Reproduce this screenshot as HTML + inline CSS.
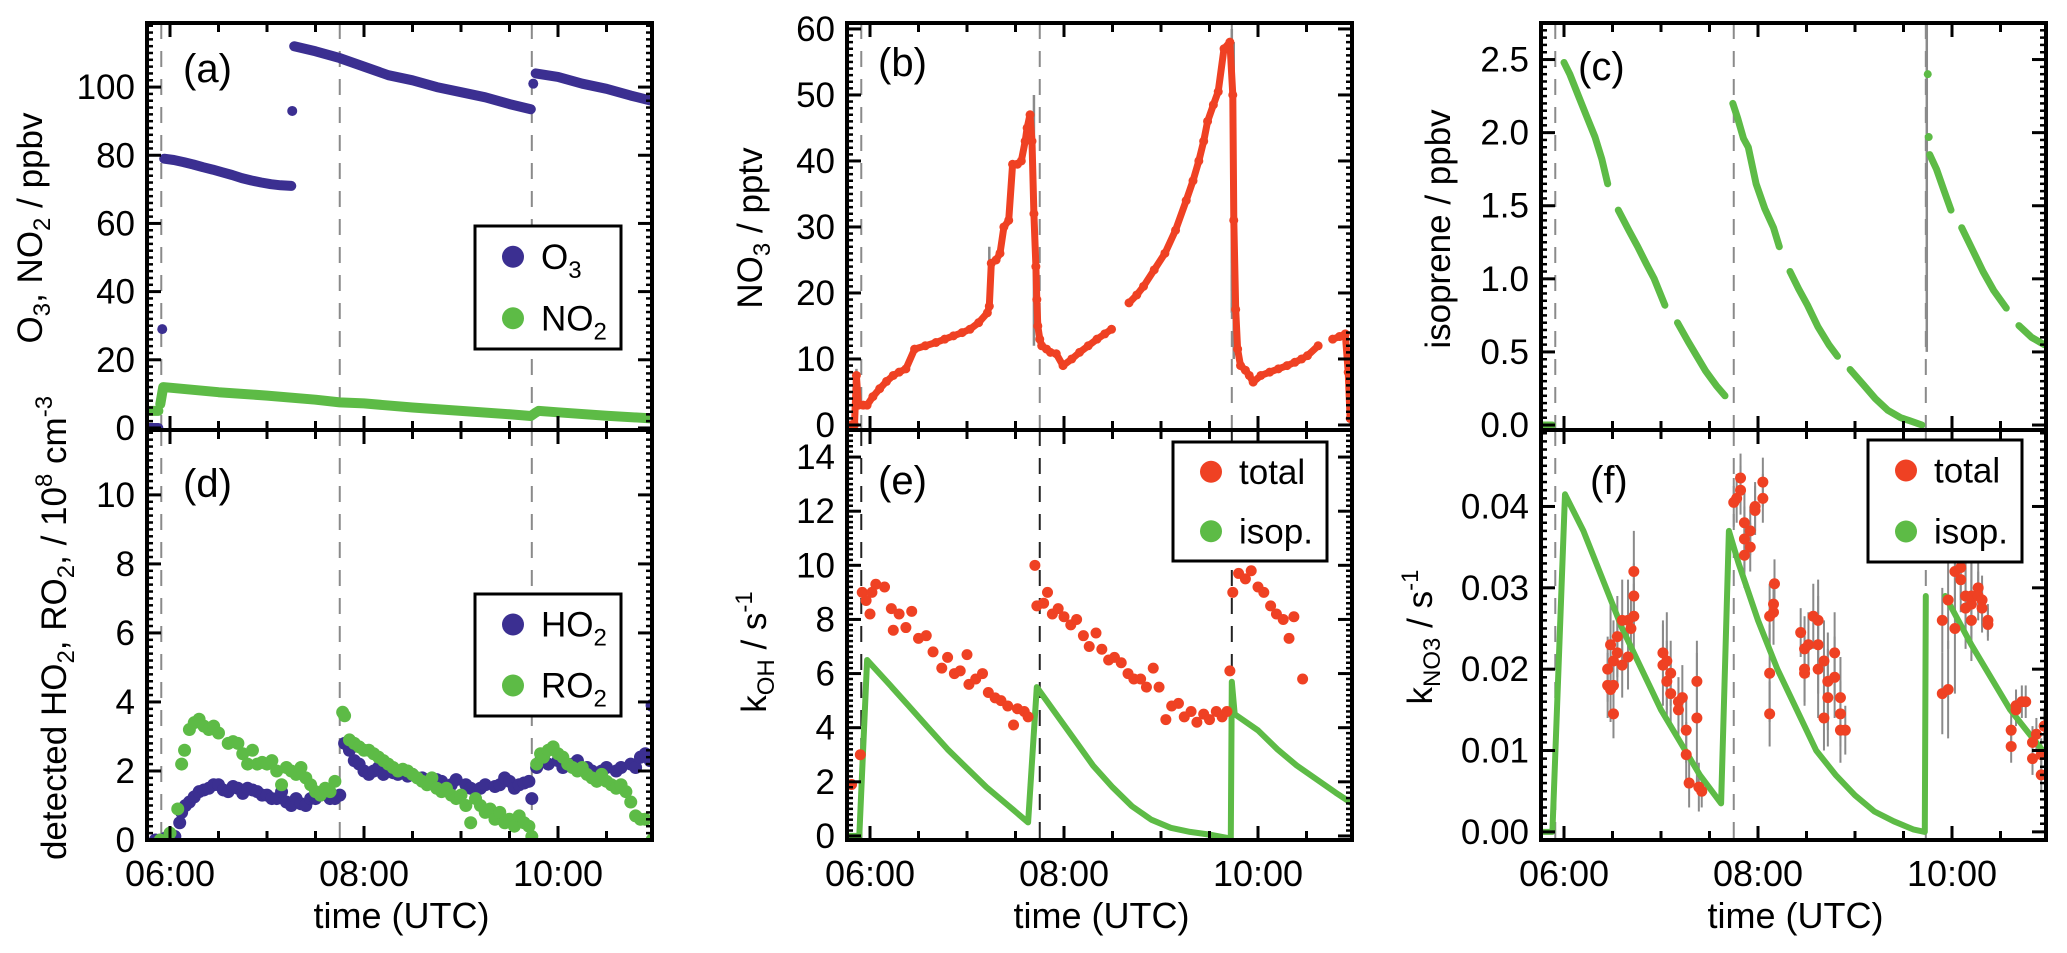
<!DOCTYPE html>
<html><head><meta charset="utf-8"><style>
html,body{margin:0;padding:0;background:#fff;}
svg{display:block;font-family:"Liberation Sans",Arial,sans-serif;}
</style></head><body>
<svg id="fig" width="2067" height="953" viewBox="0 0 2067 953" xmlns="http://www.w3.org/2000/svg"></svg>
<script>
// ---------- data ----------
const xTickHours=[6,8,10];
const xTickLabels=['06:00','08:00','10:00'];
const dashTimes=[5.91,7.75,9.73];

// panel a
const o3T=[5.78,5.88,null,5.94,6.04,6.14,6.24,6.34,6.44,6.54,6.64,6.74,6.84,6.94,7.04,7.14,7.25,null,7.28,7.5,7.75,8.0,8.25,8.5,8.75,9.0,9.25,9.5,9.72,null,9.77,10.0,10.25,10.5,10.75,10.96];
const o3V=[0,0,null,79,78.6,78,77.3,76.5,75.8,75,74.2,73.3,72.6,72,71.5,71.2,71,null,112,110.5,108.5,106,103.5,102,100,98.5,97,95,93.5,null,104,103,101,99.5,97.5,96];
const o3SingleT=[5.92,7.26,9.745];
const o3SingleV=[29,93,101];
const no2T=[5.78,5.88,null,5.9,5.93,6.0,6.5,7.0,7.5,7.75,8.0,8.5,9.0,9.5,9.72,9.76,9.8,10.0,10.5,10.96];
const no2V=[5,5,null,7,12,11.8,10.5,9.5,8.3,7.5,7.2,6.0,5.0,4.0,3.5,4.3,5,4.6,3.6,2.8];
// panel d
const ho2T=[5.85,5.9,5.95,6.05,6.1,6.12,6.16,6.2,6.25,6.3,6.35,6.4,6.45,6.5,6.55,6.6,6.65,6.7,6.75,6.8,6.85,6.9,6.95,7.0,7.05,7.1,7.15,7.2,7.25,7.3,7.35,7.4,7.45,7.5,7.55,7.6,7.65,7.7,7.75,7.8,7.85,7.9,7.95,8.0,8.05,8.1,8.15,8.2,8.3,8.35,8.45,8.5,8.6,8.65,8.75,8.8,8.9,8.95,9.05,9.1,9.2,9.25,9.35,9.4,9.45,9.5,9.55,9.6,9.65,9.7,9.73,9.78,9.82,9.85,9.9,10.0,10.05,10.15,10.2,10.3,10.35,10.45,10.5,10.6,10.65,10.75,10.8,10.85,10.9,10.95,10.97];
const ho2V=[0,0,0.05,0.1,0.5,0.8,1.0,1.1,1.25,1.4,1.45,1.5,1.6,1.6,1.45,1.4,1.55,1.5,1.35,1.5,1.45,1.4,1.3,1.3,1.2,1.2,1.4,1.1,1.0,1.2,1.05,1.0,1.2,1.2,1.3,1.35,1.2,1.2,1.3,2.8,2.6,2.3,2.2,2.0,1.9,2.0,2.1,1.9,1.95,1.9,1.85,1.9,1.8,1.7,1.75,1.7,1.6,1.75,1.6,1.5,1.5,1.6,1.55,1.6,1.8,1.7,1.5,1.6,1.65,1.7,1.2,2.1,2.3,2.4,2.2,2.3,2.1,2.2,2.3,2.1,2.0,2.0,2.1,2.0,2.1,2.2,2.1,2.4,2.5,2.3,3.9];
const ro2T=[5.9,6.0,6.08,6.12,6.15,6.2,6.25,6.3,6.35,6.4,6.45,6.5,6.6,6.65,6.7,6.75,6.8,6.85,6.9,6.95,7.0,7.05,7.1,7.15,7.2,7.25,7.3,7.35,7.4,7.45,7.5,7.55,7.6,7.65,7.7,7.78,7.8,7.85,7.9,7.95,8.0,8.05,8.1,8.15,8.2,8.25,8.3,8.35,8.4,8.45,8.5,8.55,8.6,8.65,8.7,8.75,8.8,8.85,8.9,8.95,9.0,9.05,9.1,9.15,9.2,9.25,9.3,9.35,9.4,9.45,9.5,9.55,9.6,9.65,9.7,9.73,9.78,9.82,9.85,9.9,9.95,10.0,10.05,10.1,10.15,10.2,10.25,10.3,10.35,10.4,10.45,10.5,10.55,10.6,10.65,10.7,10.75,10.8,10.85,10.9,10.97];
const ro2V=[0,0.2,0.9,2.2,2.6,3.2,3.4,3.5,3.3,3.2,3.3,3.1,2.8,2.85,2.8,2.5,2.2,2.6,2.2,2.25,2.2,2.3,2.0,1.6,2.1,2.0,1.9,2.1,1.8,1.6,1.4,1.3,1.5,1.4,1.7,3.7,3.6,2.9,2.8,2.7,2.6,2.6,2.5,2.4,2.3,2.2,2.1,2.0,2.05,2.0,1.9,1.8,1.7,1.6,1.8,1.5,1.4,1.5,1.3,1.2,1.3,1.0,0.5,1.2,1.0,0.8,0.9,0.6,0.8,0.5,0.6,0.4,0.7,0.5,0.4,0.1,2.2,2.5,2.4,2.6,2.7,2.5,2.4,2.2,2.1,2.0,2.1,1.9,1.8,1.7,1.9,1.7,1.6,1.5,1.6,1.4,1.1,0.7,0.6,0.6,0.0];
// panel b
const no3T=[5.76,5.8,5.84,5.86,5.88,5.93,5.97,6.03,6.1,6.17,6.24,6.3,6.37,6.46,6.57,6.68,6.77,6.86,6.95,7.03,7.12,7.21,7.23,7.25,7.3,7.34,7.38,7.43,7.47,7.52,7.56,7.6,7.62,7.65,7.67,7.69,7.71,7.72,7.73,7.75,7.77,7.82,7.86,7.92,7.99,8.08,8.16,8.25,8.34,8.42,8.49,8.67,8.75,8.82,8.93,9.04,9.15,9.26,9.33,9.39,9.44,9.48,9.54,9.59,9.65,9.71,9.74,9.75,9.77,9.79,9.82,9.87,9.91,9.95,10.03,10.12,10.21,10.3,10.38,10.45,10.51,10.62,10.77,10.84,10.9,10.93,10.95];
const no3V=[0,0,0,7.5,3,3,3,4.3,5.5,6.6,7.5,8,8.5,11.5,12,12.5,13,13.5,14,14.5,15.5,17,18,24.5,25,26,30,31,39.5,39.5,40,43,45,47,43,32,24,19,15,13,12,11.5,11,10.8,9,10,11,12,13,13.8,14.5,18.5,19.7,21,23.5,26,29.5,34,37,40,43,46,48.5,50.5,57,58,50,31,17.5,11.5,9,8.3,7.5,6.5,7.5,8,8.5,9,9.5,10,10.5,12,13,13.4,13.8,8,1];
const no3BarT=[5.86,7.23,7.69,9.73,9.75,10.95];
const no3BarLo=[0,17,12,17,10,0];
const no3BarHi=[8.5,27,50,60,58,10];
// panel c
const isoT=[5.76,5.88,null,6.0,6.06,6.15,6.24,6.32,6.39,6.45,null,6.56,6.67,6.76,6.85,6.93,7.04,null,7.17,7.28,7.37,7.46,7.57,7.66,null,7.74,7.79,7.85,7.9,7.98,8.07,8.16,8.22,null,8.33,8.42,8.51,8.62,8.73,8.82,null,8.95,9.08,9.21,9.34,9.47,9.56,9.69,null,9.77,9.84,9.92,9.99,null,10.1,10.21,10.32,10.43,10.56,null,10.69,10.82,10.95];
const isoV=[0,0,null,2.48,2.4,2.25,2.1,1.97,1.82,1.65,null,1.47,1.33,1.22,1.1,1.0,0.82,null,0.7,0.57,0.47,0.37,0.27,0.2,null,2.2,2.1,1.96,1.9,1.65,1.48,1.35,1.22,null,1.05,0.93,0.82,0.67,0.55,0.47,null,0.38,0.28,0.18,0.1,0.05,0.03,0.0,null,1.85,1.75,1.6,1.47,null,1.35,1.2,1.05,0.92,0.8,null,0.68,0.6,0.55];
const isoSingleT=[9.75,9.76];
const isoSingleV=[2.4,1.97];
// panel e
const kohTotT=[5.81,5.9,5.92,5.96,6.0,6.02,6.06,6.15,6.22,6.24,6.3,6.37,6.43,6.5,6.58,6.65,6.74,6.8,6.87,6.93,7.0,7.02,7.09,7.16,7.22,7.29,7.35,7.42,7.48,7.52,7.59,7.63,7.7,7.72,7.79,7.83,7.88,7.94,8.0,8.07,8.13,8.2,8.26,8.33,8.39,8.46,8.52,8.59,8.66,8.72,8.79,8.85,8.92,8.98,9.05,9.11,9.18,9.24,9.31,9.37,9.44,9.5,9.57,9.63,9.68,9.71,9.74,9.8,9.87,9.93,10.0,10.06,10.13,10.19,10.26,10.32,10.37,10.46];
const kohTotV=[1.9,3.0,9.0,8.7,8.2,9.0,9.3,9.2,8.4,7.6,8.2,7.7,8.3,7.3,7.4,6.8,6.2,6.6,6.0,6.1,6.7,5.6,5.8,6.0,5.3,5.1,5.0,4.8,4.1,4.7,4.6,4.4,10.0,8.5,8.6,9.0,8.2,8.4,8.1,7.8,8.0,7.4,7.0,7.5,6.9,6.5,6.6,6.4,6.0,5.8,5.8,5.5,6.2,5.5,4.3,4.8,4.9,4.4,4.6,4.2,4.5,4.3,4.6,4.4,4.6,6.1,9.0,9.7,9.5,9.8,9.2,9.0,8.5,8.2,8.0,7.3,8.1,5.8];
const kohIsoT=[5.76,5.89,5.97,6.2,6.4,6.6,6.8,7.0,7.2,7.4,7.63,7.72,7.9,8.1,8.3,8.5,8.7,8.9,9.1,9.3,9.5,9.72,9.73,9.76,10.0,10.2,10.4,10.6,10.8,10.97];
const kohIsoV=[0,0,6.5,5.6,4.8,4.0,3.2,2.5,1.8,1.2,0.5,5.5,4.6,3.6,2.6,1.8,1.1,0.6,0.3,0.15,0.05,-0.1,5.7,4.5,3.9,3.2,2.6,2.1,1.6,1.2];
// panel f
const kno3IsoT=[5.76,5.88,6.01,6.2,6.4,6.6,6.8,7.0,7.2,7.4,7.62,7.7,7.8,8.0,8.2,8.4,8.6,8.8,9.0,9.2,9.4,9.6,9.72,9.73,null,9.93,10.2,10.4,10.6,10.8,10.97];
const kno3IsoV=[0,0,0.0415,0.037,0.031,0.025,0.020,0.015,0.011,0.007,0.0035,0.037,0.033,0.026,0.020,0.015,0.010,0.007,0.0045,0.0025,0.0013,0.0003,0,0.029,null,0.029,0.023,0.019,0.015,0.012,0.0095];
const kno3TotT=[6.45,6.45,6.48,6.48,6.51,6.51,6.51,6.55,6.55,6.6,6.6,6.66,6.66,6.69,6.72,6.72,6.72,7.02,7.02,7.06,7.06,7.1,7.1,7.18,7.18,7.22,7.26,7.26,7.29,7.37,7.37,7.39,7.42,7.75,7.78,7.82,7.82,7.86,7.86,7.86,7.92,7.92,7.97,7.97,8.05,8.05,8.12,8.12,8.12,8.16,8.16,8.17,8.44,8.48,8.48,8.48,8.52,8.57,8.62,8.62,8.62,8.68,8.68,8.72,8.72,8.79,8.79,8.85,8.85,8.85,8.9,9.9,9.9,9.96,9.96,10.03,10.03,10.09,10.09,10.14,10.14,10.2,10.2,10.2,10.27,10.27,10.31,10.31,10.37,10.37,10.61,10.61,10.66,10.66,10.72,10.76,10.83,10.83,10.87,10.92,10.92,10.95];
const kno3TotV=[0.020,0.018,0.023,0.0175,0.0145,0.021,0.018,0.024,0.022,0.026,0.0205,0.0215,0.026,0.025,0.032,0.029,0.0265,0.0205,0.022,0.021,0.0185,0.017,0.0195,0.016,0.015,0.0165,0.0125,0.0095,0.006,0.0185,0.014,0.0055,0.005,0.0405,0.041,0.0435,0.042,0.038,0.036,0.034,0.037,0.035,0.0395,0.040,0.041,0.043,0.0195,0.0145,0.0265,0.027,0.028,0.0305,0.0245,0.0225,0.020,0.0195,0.023,0.0265,0.026,0.023,0.020,0.021,0.014,0.0165,0.0185,0.022,0.019,0.0165,0.0145,0.0125,0.0125,0.026,0.017,0.0285,0.0175,0.025,0.032,0.0325,0.031,0.029,0.0275,0.026,0.028,0.029,0.030,0.029,0.0285,0.0275,0.026,0.0255,0.0125,0.0105,0.015,0.0155,0.016,0.016,0.009,0.011,0.012,0.007,0.0095,0.013];
const kno3TotErr=[0.004,0.004,0.005,0.004,0.003,0.005,0.004,0.005,0.004,0.005,0.004,0.004,0.005,0.004,0.005,0.004,0.004,0.005,0.004,0.006,0.005,0.004,0.004,0.003,0.004,0.004,0.004,0.004,0.003,0.005,0.008,0.003,0.002,0.003,0.003,0.003,0.003,0.004,0.004,0.004,0.003,0.003,0.003,0.003,0.003,0.003,0.006,0.004,0.004,0.004,0.003,0.003,0.003,0.004,0.004,0.004,0.004,0.004,0.005,0.006,0.006,0.005,0.004,0.006,0.006,0.005,0.005,0.005,0.004,0.004,0.003,0.004,0.005,0.006,0.006,0.008,0.005,0.004,0.004,0.005,0.005,0.005,0.005,0.004,0.003,0.003,0.003,0.003,0.002,0.002,0.002,0.002,0.002,0.002,0.002,0.002,0.002,0.002,0.002,0.002,0.002,0.002];

// ---------- drawing ----------
const NS='http://www.w3.org/2000/svg';
const svg=document.getElementById('fig');
const BLUE='#3b2f91',GREEN='#5dbb46',RED='#ef4123',GRAY='#8a8a8a';
function mk(tag,attrs,parent){const e=document.createElementNS(NS,tag);for(const k in attrs)e.setAttribute(k,attrs[k]);(parent||svg).appendChild(e);return e;}

const P={
 a:{l:147,r:652,t:23,b:430,lo:-0.6,hi:118.8,maj:20,minr:2,fmt:v=>v.toFixed(0),ticks:[0,20,40,60,80,100]},
 d:{l:147,r:652,t:430,b:840,lo:0,hi:11.88,maj:2,minr:0.2,fmt:v=>v.toFixed(0),ticks:[0,2,4,6,8,10]},
 b:{l:847,r:1352,t:23,b:430,lo:-0.76,hi:60.9,maj:10,minr:1,fmt:v=>v.toFixed(0),ticks:[0,10,20,30,40,50,60]},
 e:{l:847,r:1352,t:430,b:840,lo:-0.15,hi:15.0,maj:2,minr:0.2,fmt:v=>v.toFixed(0),ticks:[0,2,4,6,8,10,12,14]},
 c:{l:1541,r:2046,t:23,b:430,lo:-0.034,hi:2.75,maj:0.5,minr:0.05,fmt:v=>v.toFixed(1),ticks:[0,0.5,1,1.5,2,2.5]},
 f:{l:1541,r:2046,t:430,b:840,lo:-0.001,hi:0.0494,maj:0.01,minr:0.001,fmt:v=>v.toFixed(2),ticks:[0,0.01,0.02,0.03,0.04]}
};
function xs(p,t){return p.l+23+(t-6)*97;}
function ys(p,v){return p.b-(v-p.lo)/(p.hi-p.lo)*(p.b-p.t);}

function clip(p,id){const cp=mk('clipPath',{id:id});mk('rect',{x:p.l,y:p.t,width:p.r-p.l,height:p.b-p.t},cp);return 'url(#'+id+')';}

function dashes(p,g,color){
 dashTimes.forEach(t=>{const ln=mk('line',{x1:xs(p,t),x2:xs(p,t),y1:p.t,y2:p.b,stroke:color,'stroke-width':2,'stroke-dasharray':'16,12'},g);
 
 });
}
function linePath(p,T,V,gap){let d='',pen=false,prev=null;for(let i=0;i<T.length;i++){if(T[i]===null||V[i]===null){pen=false;continue;}
 if(gap&&prev!==null&&T[i]-prev>gap)pen=false;
 d+=(pen?'L':'M')+xs(p,T[i]).toFixed(1)+','+ys(p,V[i]).toFixed(1);pen=true;prev=T[i];}return d;}
function series(p,g,T,V,color,w,name,gap){const pa=mk('path',{d:linePath(p,T,V,gap),fill:'none',stroke:color,'stroke-width':w,'stroke-linecap':'round','stroke-linejoin':'round'},g);
 
 }
function dots(p,g,T,V,color,r,name){const gg=mk('g',{},g);
 
 
 for(let i=0;i<T.length;i++){if(T[i]===null)continue;const c=mk('circle',{cx:xs(p,T[i]),cy:ys(p,V[i]),r:r,fill:color},gg);
 
 }}

function frame(p,key,showX){
 const g=mk('g',{});
 
 
 for(let t=6;t<=10.9;t+=0.5){const x=xs(p,t);const L=(Math.abs(t-Math.round(t/2)*2)<0.01)?14:9;
  mk('line',{x1:x,x2:x,y1:p.b,y2:p.b-L,stroke:'#000','stroke-width':3},g);
  mk('line',{x1:x,x2:x,y1:p.t,y2:p.t+L,stroke:'#000','stroke-width':3},g);}
 const n=Math.round((p.hi-p.lo)/p.minr)+2;
 const start=Math.ceil(p.lo/p.minr)*p.minr;
 for(let i=0;i<n;i++){const v=start+i*p.minr;if(v>p.hi)break;const y=ys(p,v);
  const isMaj=Math.abs(v/p.maj-Math.round(v/p.maj))<1e-6;const L=isMaj?14:6;
  mk('line',{x1:p.l,x2:p.l+L,y1:y,y2:y,stroke:'#000','stroke-width':isMaj?3:2.5},g);
  mk('line',{x1:p.r,x2:p.r-L,y1:y,y2:y,stroke:'#000','stroke-width':isMaj?3:2.5},g);}
 mk('rect',{x:p.l,y:p.t,width:p.r-p.l,height:p.b-p.t,fill:'none',stroke:'#000','stroke-width':4},g);
 p.ticks.forEach(v=>{const tx=mk('text',{x:p.l-12,y:ys(p,v)+12,'text-anchor':'end','font-size':35,fill:'#000'},g);tx.textContent=p.fmt(v);
  
  });
 if(showX){
  xTickHours.forEach((h,i)=>{const tx=mk('text',{x:xs(p,h),y:886,'text-anchor':'middle','font-size':36,fill:'#000'},g);tx.textContent=xTickLabels[i];
   
   });
  const xt=mk('text',{x:(p.l+p.r)/2+2,y:928,'text-anchor':'middle','font-size':36,fill:'#000'},g);xt.textContent='time (UTC)';
  
  
 }
}
function panelLabel(p,txt,x,y){const t=mk('text',{x:x,y:y,'font-size':40,fill:'#000'});t.textContent=txt;
 
 }
function ytitle(cx,cy,parts,name){const t=mk('text',{x:0,y:0,'text-anchor':'middle','font-size':35,fill:'#000',transform:'translate('+cx+','+cy+') rotate(-90)'});
 
 
 parts.forEach(pt=>{const s=mk('tspan',{},t);s.textContent=pt[0];
  if(pt[1]==='sub'){s.setAttribute('font-size',24);s.setAttribute('dy',8);}
  else if(pt[1]==='sup'){s.setAttribute('font-size',24);s.setAttribute('dy',-14);}
  else if(pt[1]==='back'){s.setAttribute('dy',pt[2]);}
 });}
function legend(x,y,w,h,items,name){const g=mk('g',{});
 
 
 mk('rect',{x:x,y:y,width:w,height:h,fill:'#fff',stroke:'#000','stroke-width':3},g);
 items.forEach((it,i)=>{const cy=y+(i+0.5)*h/items.length;
  const c=mk('circle',{cx:x+38,cy:cy,r:11,fill:it.color},g);
  
  
  const t=mk('text',{x:x+66,y:cy+12,'font-size':35,fill:'#000'},g);
  
  
  const s1=mk('tspan',{},t);s1.textContent=it.label;
  if(it.sub){const s2=mk('tspan',{'font-size':24,dy:9},t);s2.textContent=it.sub;}
 });}

// ----- panel a -----
(function(){const p=P.a;const g=mk('g',{'clip-path':clip(p,'ca')});
 
 
 dashes(p,g,GRAY);
 series(p,g,o3T,o3V,BLUE,10,'o3-series');
 dots(p,g,o3SingleT,o3SingleV,BLUE,5,'o3-outliers');
 series(p,g,no2T,no2V,GREEN,10,'no2-series');
 frame(p,'a',false);
 panelLabel(p,'(a)',183,82);
 legend(475,226,146,123,[{color:BLUE,label:'O',sub:'3'},{color:GREEN,label:'NO',sub:'2'}],'legend-a');
 ytitle(42,228,[['O'],['3','sub'],[', NO','back',-8],['2','sub'],[' / ppbv','back',-8]],'y-axis-title-a');
})();
// ----- panel d -----
(function(){const p=P.d;const g=mk('g',{'clip-path':clip(p,'cd')});
 
 
 dashes(p,g,GRAY);
 dots(p,g,ho2T,ho2V,BLUE,6.5,'ho2-series');
 dots(p,g,ro2T,ro2V,GREEN,6.5,'ro2-series');
 frame(p,'d',true);
 panelLabel(p,'(d)',183,497);
 legend(475,594,146,122,[{color:BLUE,label:'HO',sub:'2'},{color:GREEN,label:'RO',sub:'2'}],'legend-d');
 ytitle(66,628,[['detected HO'],['2','sub'],[', RO','back',-8],['2','sub'],[', / 10','back',-8],['8','sup'],[' cm','back',14],['-3','sup']],'y-axis-title-d');
})();
// ----- panel b -----
(function(){const p=P.b;const g=mk('g',{'clip-path':clip(p,'cb')});
 
 
 dashes(p,g,GRAY);
 for(let i=0;i<no3BarT.length;i++){const l=mk('line',{x1:xs(p,no3BarT[i]),x2:xs(p,no3BarT[i]),y1:ys(p,no3BarLo[i]),y2:ys(p,no3BarHi[i]),stroke:GRAY,'stroke-width':2.5},g);
  
  }
 series(p,g,no3T,no3V,RED,7,'no3-trace',0.12);
 dots(p,g,no3T,no3V,RED,4.5,'no3-series');
 frame(p,'b',false);
 panelLabel(p,'(b)',878,76);
 ytitle(762,228,[['NO'],['3','sub'],[' / pptv','back',-8]],'y-axis-title-b');
})();
// ----- panel e -----
(function(){const p=P.e;const g=mk('g',{'clip-path':clip(p,'ce')});
 
 
 dashes(p,g,'#222');
 series(p,g,kohIsoT,kohIsoV,GREEN,6,'koh-isoprene-line');
 dots(p,g,kohTotT,kohTotV,RED,5.5,'koh-total-series');
 frame(p,'e',true);
 panelLabel(p,'(e)',878,494);
 legend(1173,442,154,119,[{color:RED,label:'total'},{color:GREEN,label:'isop.'}],'legend-e');
 ytitle(766,652,[['k'],['OH','sub'],[' / s','back',-8],['-1','sup']],'y-axis-title-e');
})();
// ----- panel c -----
(function(){const p=P.c;const g=mk('g',{'clip-path':clip(p,'cc')});
 
 
 dashes(p,g,GRAY);
 const bar=mk('line',{x1:xs(p,9.74),x2:xs(p,9.74),y1:p.t,y2:ys(p,0.5),stroke:GRAY,'stroke-width':2.5},g);
 
 
 series(p,g,isoT,isoV,GREEN,7,'isoprene-series');
 dots(p,g,isoSingleT,isoSingleV,GREEN,4,'isoprene-outliers');
 frame(p,'c',false);
 panelLabel(p,'(c)',1578,80);
 ytitle(1450,229,[['isoprene / ppbv']],'y-axis-title-c');
})();
// ----- panel f -----
(function(){const p=P.f;const g=mk('g',{'clip-path':clip(p,'cf')});
 
 
 dashes(p,g,GRAY);
 for(let i=0;i<kno3TotT.length;i++){const x=xs(p,kno3TotT[i]);const l=mk('line',{x1:x,x2:x,y1:ys(p,kno3TotV[i]-kno3TotErr[i]),y2:ys(p,kno3TotV[i]+kno3TotErr[i]),stroke:GRAY,'stroke-width':2},g);
  
  }
 series(p,g,kno3IsoT,kno3IsoV,GREEN,6,'kno3-isoprene-line');
 dots(p,g,kno3TotT,kno3TotV,RED,5.5,'kno3-total-series');
 frame(p,'f',true);
 panelLabel(p,'(f)',1590,494);
 legend(1868,440,154,122,[{color:RED,label:'total'},{color:GREEN,label:'isop.'}],'legend-f');
 ytitle(1432,637,[['k'],['NO3','sub'],[' / s','back',-8],['-1','sup']],'y-axis-title-f');
})();
</script>
</body></html>
